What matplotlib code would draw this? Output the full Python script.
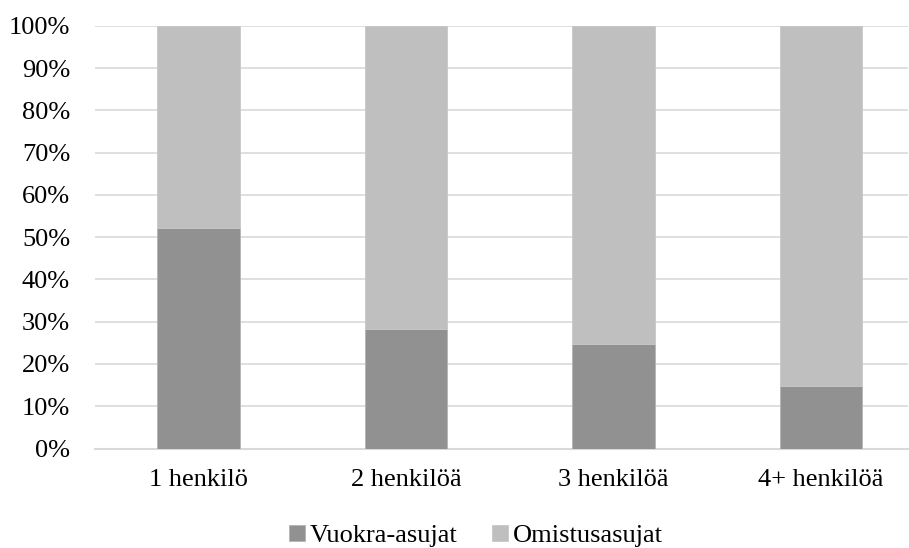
import matplotlib
matplotlib.use("Agg")
import matplotlib.pyplot as plt
import numpy as np
from matplotlib.ticker import FuncFormatter

categories = ["1 henkilö", "2 henkilöä", "3 henkilöä", "4+ henkilöä"]
vuokra = [52.2, 28.2, 24.7, 14.9]
omistus = [100 - v for v in vuokra]
series_names = ["Vuokra-asujat", "Omistusasujat"]
colors = ["#919191", "#bfbfbf"]

plt.rcParams["font.family"] = ["Liberation Serif", "DejaVu Serif"]
plt.rcParams["font.size"] = 19

fig = plt.figure(figsize=(9.09, 5.48), dpi=100)
W, H = 909, 548
ax = fig.add_axes([95 / W, 1 - 448.5 / H, (908 - 95) / W, (448.5 - 25.8) / H])

x = np.arange(len(categories))
width = 0.398
ax.bar(x, vuokra, width, color=colors[0], edgecolor="#b4b4b4", linewidth=0.6,
       label=series_names[0], zorder=3)
ax.bar(x, omistus, width, bottom=vuokra, color=colors[1], edgecolor="#c8c8c8",
       linewidth=0.6, label=series_names[1], zorder=3)

ax.set_xlim(-0.5, 3.42)
ax.set_ylim(0, 100)
ax.set_yticks(np.arange(0, 101, 10))
ax.yaxis.set_major_formatter(FuncFormatter(lambda v, p: f"{int(v)}%"))
ax.set_xticks(x)
ax.set_xticklabels(categories)
ax.tick_params(axis="y", length=0, pad=18, colors="black")
ax.tick_params(axis="x", length=0, pad=15, colors="black")
ax.grid(axis="y", color="#d9d9d9", linewidth=1.2, zorder=0)
ax.set_axisbelow(True)
for s in ["top", "right", "left"]:
    ax.spines[s].set_visible(False)
ax.spines["bottom"].set_color("#d9d9d9")
ax.spines["bottom"].set_linewidth(1.5)

fig.legend(loc="lower center", bbox_to_anchor=(476 / W, -0.042), ncol=2,
           frameon=False, handlelength=0.6, handleheight=0.6,
           handletextpad=0.2, columnspacing=1.3)

fig.savefig("out.png", dpi=100)
